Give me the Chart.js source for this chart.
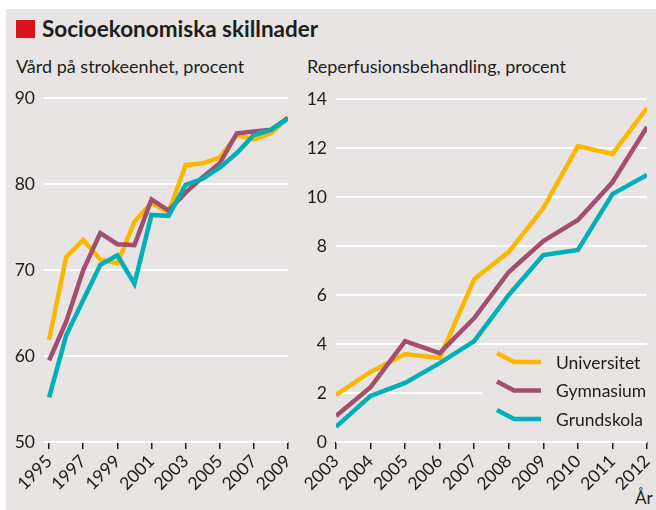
<!DOCTYPE html>
<html lang="sv">
<head>
<meta charset="UTF-8">
<title>Socioekonomiska skillnader</title>
<script src="https://cdn.jsdelivr.net/npm/chart.js"></script>
<style>
  body { margin: 0; width: 656px; height: 510px; background: #fff; position: relative; overflow: hidden;
         font-family: Lato, "Noto Sans", sans-serif; color: #1d1d1b; }
  #panel { position: absolute; left: 6px; top: 9px; width: 650px; height: 501px; background: #e9e4e4; }
  .txt { position: absolute; white-space: nowrap; line-height: 1; }
  #redbox { position: absolute; left: 16px; top: 20px; width: 19px; height: 18px; background: #d7141a; }
  #title { left: 42px; top: 18px; font-size: 22.5px; font-weight: bold; }
  .sub { top: 57px; font-size: 18px; }
  #ar { left: 635px; top: 489px; font-size: 17px; }
  canvas { position: absolute; }
</style>
</head>
<body>
<div id="panel"></div>
<div id="redbox"></div>
<div class="txt" id="title">Socioekonomiska skillnader</div>
<div class="txt sub" style="left:16px">Vård på strokeenhet, procent</div>
<div class="txt sub" style="left:307px">Reperfusionsbehandling, procent</div>
<div class="txt" id="ar">År</div>
<canvas id="leftChart" width="294" height="425" style="left:6px;top:85px"></canvas>
<canvas id="rightChart" width="356" height="425" style="left:300px;top:85px"></canvas>

<script>
  // Vård på strokeenhet (procent), 1995-2009
  const strokeYears = [1995, 1996, 1997, 1998, 1999, 2000, 2001, 2002, 2003, 2004, 2005, 2006, 2007, 2008, 2009];
  const strokeUni  = [61.9, 71.5, 73.5, 71.2, 70.8, 75.6, 77.8, 76.7, 82.2, 82.4, 83.1, 85.7, 85.2, 85.9, 87.7];
  const strokeGymn = [59.5, 64.0, 70.0, 74.3, 73.0, 72.9, 78.2, 76.9, 79.0, 80.8, 82.4, 85.9, 86.1, 86.3, 87.7];
  const strokeGrund= [55.2, 62.4, 66.5, 70.6, 71.7, 68.4, 76.4, 76.3, 79.9, 80.6, 81.9, 83.6, 85.7, 86.3, 87.6];
  const strokeTicks = [1995, 1997, 1999, 2001, 2003, 2005, 2007, 2009];

  // Reperfusionsbehandling (procent), 2003-2012
  const reperfYears = [2003, 2004, 2005, 2006, 2007, 2008, 2009, 2010, 2011, 2012];
  const reperfUni   = [1.92, 2.86, 3.59, 3.43, 6.65, 7.76, 9.55, 12.08, 11.76, 13.63];
  const reperfGymn  = [1.06, 2.24, 4.12, 3.63, 5.06, 6.94, 8.20, 9.06, 10.60, 12.86];
  const reperfGrund = [0.62, 1.88, 2.41, 3.22, 4.12, 6.00, 7.63, 7.84, 10.12, 10.90];

  const seriesNames = ['Universitet', 'Gymnasium', 'Grundskola'];
  const colors = ['#fbb800', '#a54d6f', '#00afba'];
  const bg = '#e9e4e4';
  const font = 'Lato, "Noto Sans", sans-serif';

  const pts = (xs, ys) => xs.map((x, i) => ({ x: x, y: ys[i] }));

  function buildDatasets(xs, lists) {
    // grundskola drawn on top, universitet at the bottom
    return lists.map((vals, i) => ({
      label: seriesNames[i],
      data: pts(xs, vals),
      borderColor: colors[i],
      borderWidth: 4.5,
      pointRadius: 0,
      tension: 0,
      order: 2 - i
    }));
  }

  // legend with the little bent line, drawn on the right chart
  const legendPlugin = {
    id: 'bentLegend',
    afterDatasetsDraw(chart) {
      const ctx = chart.ctx;
      ctx.save();
      ctx.fillStyle = bg;
      ctx.fillRect(182, 264, 168, 87);
      seriesNames.forEach((name, i) => {
        const y = 277 + i * 28.5;
        ctx.strokeStyle = colors[i];
        ctx.lineWidth = 4.5;
        ctx.beginPath();
        ctx.moveTo(197, y - 9);
        ctx.lineTo(214, y);
        ctx.lineTo(241, y);
        ctx.stroke();
        ctx.fillStyle = '#1d1d1b';
        ctx.font = '17.5px ' + font;
        ctx.textBaseline = 'middle';
        ctx.fillText(name, 256, y + 1);
      });
      ctx.restore();
    }
  };

  function makeChart(id, cfg) {
    return new Chart(document.getElementById(id), {
      type: 'line',
      data: { datasets: cfg.datasets },
      options: {
        responsive: false,
        animation: false,
        layout: { padding: { top: cfg.padTop, right: cfg.padRight, left: 0, bottom: 0 } },
        plugins: { legend: { display: false }, tooltip: { enabled: false } },
        elements: { line: { borderCapStyle: 'butt', borderJoinStyle: 'miter' } },
        scales: {
          x: {
            type: 'linear',
            min: cfg.xMin, max: cfg.xMax,
            afterBuildTicks: s => { s.ticks = cfg.xTicks.map(v => ({ value: v })); },
            afterFit: s => { s.height = 68; s.paddingLeft = 0; s.paddingRight = 0; },
            border: { display: false },
            grid: { drawOnChartArea: false, drawTicks: true, tickLength: 7, tickColor: '#1d1d1b', lineWidth: 1.5 },
            ticks: { minRotation: 45, maxRotation: 45, autoSkip: false, padding: 2, color: '#1d1d1b',
                     font: { family: font, size: 17.5 }, callback: v => String(v) }
          },
          y: {
            min: cfg.yMin, max: cfg.yMax,
            ticks: { stepSize: cfg.yStep, padding: 9, color: '#1d1d1b', font: { family: font, size: 17.5 } },
            afterFit: s => { s.width = cfg.yWidth; s.paddingTop = 0; s.paddingBottom = 0; },
            border: { display: false },
            grid: { color: '#ffffff', lineWidth: 2, drawTicks: false }
          }
        }
      },
      plugins: cfg.plugins || []
    });
  }

  makeChart('leftChart', {
    datasets: buildDatasets(strokeYears, [strokeUni, strokeGymn, strokeGrund]),
    xMin: 1994.7, xMax: 2009, xTicks: strokeTicks,
    yMin: 50, yMax: 90, yStep: 10, yWidth: 38, padTop: 13, padRight: 12
  });

  makeChart('rightChart', {
    datasets: buildDatasets(reperfYears, [reperfUni, reperfGymn, reperfGrund]),
    xMin: 2003, xMax: 2012, xTicks: reperfYears,
    yMin: 0, yMax: 14, yStep: 2, yWidth: 36, padTop: 14, padRight: 9,
    plugins: [legendPlugin]
  });
</script>
</body>
</html>
